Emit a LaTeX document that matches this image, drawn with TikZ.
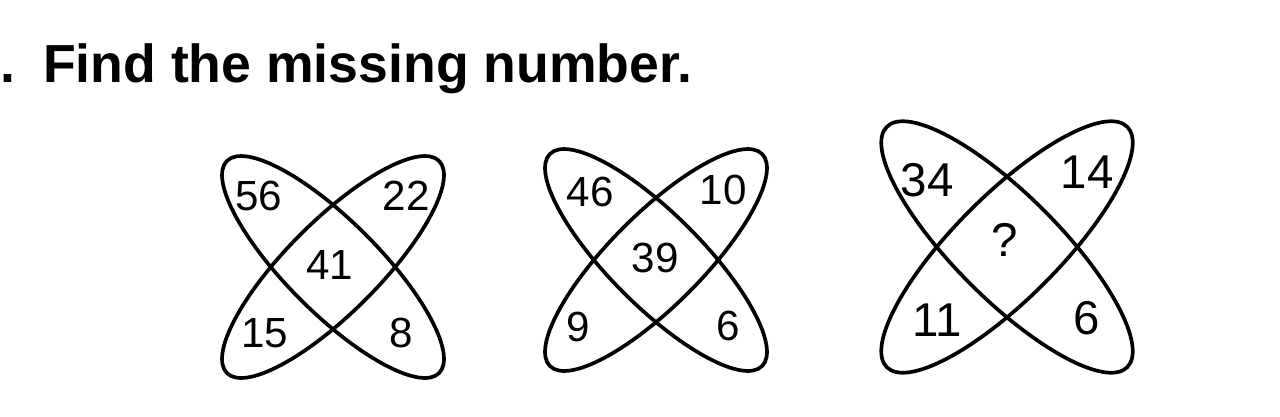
\documentclass[tikz,border=0pt]{standalone}
\usepackage{fontspec}
\setmainfont{Liberation Sans}
\usetikzlibrary{positioning}

\begin{document}
\begin{tikzpicture}
[x=0.02cm,y=-0.02cm,
petal/.style={draw,line width=2.1pt},
num/.style={inner sep=0pt,font=\fontsize{24}{28}\selectfont},
big/.style={inner sep=0pt,font=\fontsize{27}{31}\selectfont}]

\useasboundingbox (0,0) rectangle (1280,416);

\node[anchor=base west,inner sep=0pt,font=\bfseries\fontsize{30.5}{35}\selectfont] (title) at (0,82) {.\hspace{0.16cm} Find the missing number.};

% the three crossed loops
\foreach \cx/\cy/\ra/\rb in {333/267/150/46, 656/260/150/46, 1007/247/170/52}{
	\draw[petal,rotate around={45:(\cx,\cy)}] (\cx,\cy) ellipse [x radius=\ra,y radius=\rb];
	\draw[petal,rotate around={-45:(\cx,\cy)}] (\cx,\cy) ellipse [x radius=\ra,y radius=\rb];
}

% first figure
\node[num] (a1) at (259,196) {56};
\node[num] (a2) at (406,196) {22};
\node[num] (a0) at (330,265) {41};
\node[num] (a3) at (265,333) {15};
\node[num] (a4) at (401,333) {8};

% second figure
\node[num] (b1) at (590,192) {46};
\node[num] (b2) at (723,190) {10};
\node[num] (b0) at (655,258) {39};
\node[num] (b3) at (578,327) {9};
\node[num] (b4) at (728,326) {6};

% third figure
\node[big] (c1) at (927,180) {34};
\node[big] (c2) at (1087,172) {14};
\node[big] (c0) at (1005,240) {?};
\node[big] (c3) at (937,320) {11};
\node[big] (c4) at (1087,318) {6};
\end{tikzpicture}
\end{document}
